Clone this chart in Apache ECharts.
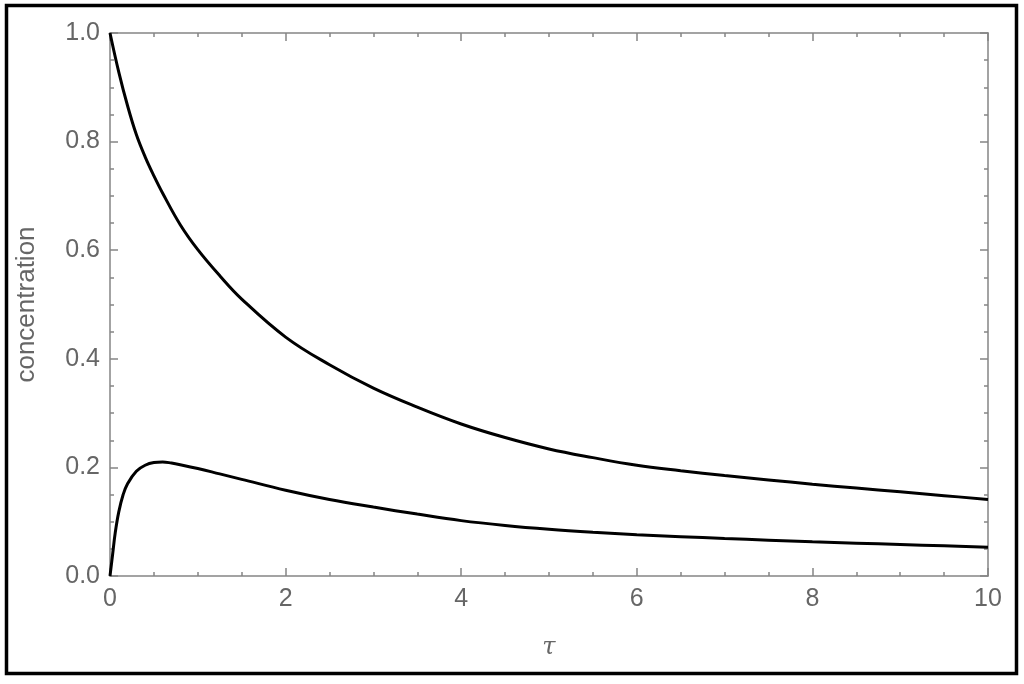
<!DOCTYPE html>
<html>
<head>
<meta charset="utf-8">
<style>
  html, body { margin: 0; padding: 0; background: #fff; }
  #chart { width: 1024px; height: 684px; }
</style>
<script src="https://cdn.jsdelivr.net/npm/echarts@6/dist/echarts.min.js"></script>
</head>
<body>
<div id="chart"></div>
<script>
// values
const tauUpper = [0, 0.1, 0.2, 0.3, 0.4, 0.5, 0.6, 0.8, 1.0, 1.25, 1.5, 2.0, 2.5, 3.0, 3.5, 4.0, 4.5, 5.0, 5.5, 6.0, 6.5, 7.0, 7.5, 8.0, 8.5, 9.0, 9.5, 10];
const concUpper = [1.000, 0.928, 0.866, 0.813, 0.772, 0.737, 0.705, 0.647, 0.601, 0.553, 0.510, 0.440, 0.389, 0.346, 0.311, 0.280, 0.255, 0.234, 0.218, 0.204, 0.194, 0.185, 0.177, 0.169, 0.162, 0.155, 0.148, 0.141];

const tauLower = [0, 0.03, 0.06, 0.1, 0.15, 0.2, 0.3, 0.4, 0.5, 0.6, 0.7, 0.8, 1.0, 1.25, 1.5, 2.0, 2.5, 3.0, 3.5, 4.0, 4.5, 5.0, 5.5, 6.0, 6.5, 7.0, 7.5, 8.0, 8.5, 9.0, 9.5, 10];
const concLower = [0.000, 0.040, 0.080, 0.118, 0.150, 0.170, 0.193, 0.204, 0.209, 0.210, 0.208, 0.205, 0.198, 0.188, 0.178, 0.158, 0.141, 0.127, 0.114, 0.102, 0.093, 0.086, 0.0805, 0.076, 0.0725, 0.069, 0.066, 0.063, 0.0605, 0.058, 0.0555, 0.053];

const frameColor = '#858585';
const labelColor = '#666';
const fontFamily = '"Liberation Sans", Arial, sans-serif';

const chart = echarts.init(document.getElementById('chart'));

function pairs(xs, ys) {
  return xs.map((x, i) => [x, ys[i]]);
}

function frameAxis(extra) {
  return Object.assign({
    type: 'value',
    axisLine: { show: true, onZero: false, lineStyle: { color: frameColor, width: 1.5 } },
    axisTick: { show: true, inside: true, length: 8, lineStyle: { color: frameColor, width: 1.5 } },
    minorTick: { show: true, splitNumber: 4, length: 4, lineStyle: { color: frameColor, width: 1.5 } },
    splitLine: { show: false },
    minorSplitLine: { show: false }
  }, extra);
}

const option = {
  animation: false,
  backgroundColor: '#fff',
  grid: { left: 110, right: 36, top: 33, bottom: 108 },
  graphic: [{
    type: 'rect',
    shape: { x: 6.5, y: 5.5, width: 1010, height: 668 },
    style: { fill: 'none', stroke: '#000', lineWidth: 3.5 },
    silent: true
  }],
  xAxis: [
    frameAxis({
      position: 'bottom', min: 0, max: 10, interval: 2,
      name: 'τ', nameLocation: 'middle', nameGap: 60,
      nameTextStyle: { color: labelColor, fontSize: 24, fontStyle: 'italic', fontFamily: '"DejaVu Serif", serif' },
      axisLabel: { color: labelColor, fontSize: 25, margin: 11, fontFamily: fontFamily }
    }),
    frameAxis({
      position: 'top', min: 0, max: 10, interval: 2,
      axisLabel: { show: false }
    })
  ],
  yAxis: [
    frameAxis({
      position: 'left', min: 0, max: 1, interval: 0.2,
      name: 'concentration', nameLocation: 'middle', nameGap: 70,
      nameTextStyle: { color: labelColor, fontSize: 26, fontFamily: fontFamily },
      axisLabel: { color: labelColor, fontSize: 25, margin: 10, fontFamily: fontFamily,
        formatter: v => v.toFixed(1) }
    }),
    frameAxis({
      position: 'right', min: 0, max: 1, interval: 0.2,
      axisLabel: { show: false }
    })
  ],
  series: [
    {
      type: 'line',
      data: pairs(tauUpper, concUpper),
      showSymbol: false,
      smooth: 0.4,
      lineStyle: { color: '#000', width: 3 }
    },
    {
      type: 'line',
      data: pairs(tauLower, concLower),
      showSymbol: false,
      smooth: 0.4,
      lineStyle: { color: '#000', width: 3 }
    }
  ]
};

chart.setOption(option);
</script>
</body>
</html>
